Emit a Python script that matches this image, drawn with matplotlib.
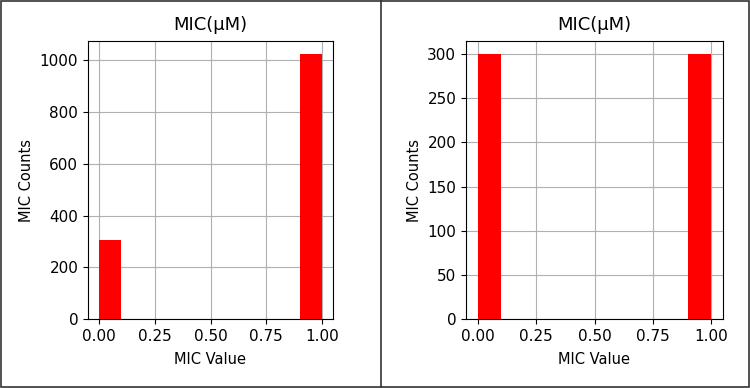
import numpy as np
import matplotlib.pyplot as plt
from matplotlib.patches import Rectangle
from matplotlib.lines import Line2D

# histogram bins (10 equal bins on 0..1) and counts per bin
bin_edges = np.linspace(0, 1, 11)
left_counts = [305, 0, 0, 0, 0, 0, 0, 0, 0, 1024]
right_counts = [300, 0, 0, 0, 0, 0, 0, 0, 0, 300]
x_ticks = [0.00, 0.25, 0.50, 0.75, 1.00]

W, H = 750, 388
fig = plt.figure(figsize=(7.5, 3.88), dpi=100)

def axes_px(x0, x1, y0, y1):
    return fig.add_axes([x0 / W, 1 - y1 / H, (x1 - x0) / W, (y1 - y0) / H])

ax1 = axes_px(88, 333, 41, 319)
ax2 = axes_px(466, 723, 41, 319)

centers = (bin_edges[:-1] + bin_edges[1:]) / 2
for ax, counts in [(ax1, left_counts), (ax2, right_counts)]:
    ax.hist(centers, bins=bin_edges, weights=counts, color='red', zorder=3)
    ax.set_axisbelow(True)
    ax.grid(True, color='#b0b0b0', linewidth=0.8)
    ax.set_xticks(x_ticks)
    ax.set_xticklabels(['%.2f' % t for t in x_ticks])
    ax.set_title('MIC(μM)', fontsize=13, pad=8)
    ax.set_xlabel('MIC Value', fontsize=10.5, labelpad=6)
    ax.set_ylabel('MIC Counts', fontsize=10.5)
    ax.tick_params(labelsize=11)

ax2.set_yticks([0, 50, 100, 150, 200, 250, 300])

# outer frame and divider between the two panels
fig.patches.append(Rectangle((1 / W, 1 / H), 1 - 2 / W, 1 - 2 / H, transform=fig.transFigure,
                             fill=False, edgecolor='#333333', linewidth=1.2))
fig.lines.append(Line2D([381 / W, 381 / W], [0, 1], transform=fig.transFigure,
                        color='#333333', linewidth=1.2))

fig.savefig('out.png', dpi=100)
